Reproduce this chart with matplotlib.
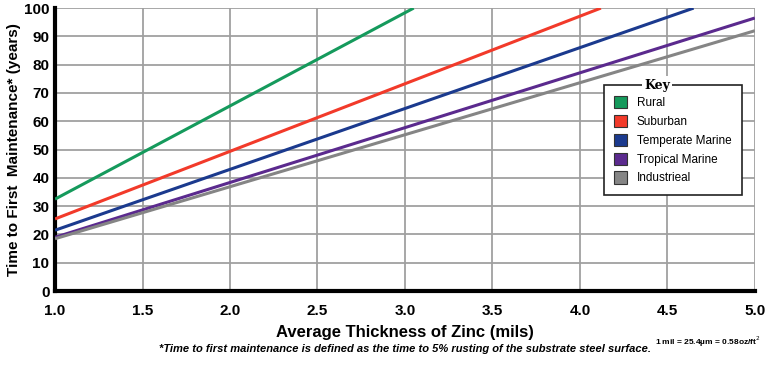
import matplotlib.pyplot as plt
from matplotlib.patches import Patch

plt.rcParams['font.family'] = ['Liberation Sans', 'DejaVu Sans']

# datos (espesor en mils, anios)
names = ["Rural", "Suburban", "Temperate Marine", "Tropical Marine", "Industrieal"]
colors = ["#159a5c", "#f23a2a", "#1b3a8e", "#5b2a8e", "#858585"]
x_start = [1.0, 1.0, 1.0, 1.0, 1.0]
x_end = [3.05, 4.12, 4.65, 5.0, 5.0]
y_start = [32.5, 25.5, 21.5, 19.0, 18.5]
y_end = [100.0, 100.0, 100.0, 96.5, 92.0]

xticks = [1.0, 1.5, 2.0, 2.5, 3.0, 3.5, 4.0, 4.5, 5.0]
yticks = [0, 10, 20, 30, 40, 50, 60, 70, 80, 90, 100]

fig = plt.figure(figsize=(7.75, 3.68), dpi=100)
ax = fig.add_axes([0.071, 0.209, 0.903, 0.769])

for i in range(len(names)):
    ax.plot([x_start[i], x_end[i]], [y_start[i], y_end[i]], color=colors[i], lw=2.2,
            solid_capstyle='butt', zorder=3)

ax.set_xlim(1.0, 5.0)
ax.set_ylim(0, 100)
ax.set_xticks(xticks)
ax.set_yticks(yticks)
ax.set_xticklabels(["%.1f" % v for v in xticks], fontsize=11, fontweight='bold')
ax.set_yticklabels([str(v) for v in yticks], fontsize=11, fontweight='bold')
ax.tick_params(axis='y', length=0, pad=4)
ax.tick_params(axis='x', length=0, pad=9)
ax.grid(True, color="#a0a0a0", lw=1.3)
ax.set_axisbelow(True)

for s in ['top', 'right']:
    ax.spines[s].set_visible(False)
ax.spines['left'].set_linewidth(3)
ax.spines['bottom'].set_linewidth(3)

ax.set_xlabel("Average Thickness of Zinc (mils)", fontsize=12, fontweight='bold', labelpad=5)
ax.set_ylabel("Time to First  Maintenance* (years)", fontsize=11, fontweight='bold', labelpad=2)

handles = [Patch(facecolor=c, edgecolor="#333333", lw=0.8) for c in colors]
leg = ax.legend(handles, names, loc='upper left', bbox_to_anchor=(0.784, 0.728),
                fontsize=8.5, frameon=True, fancybox=False, edgecolor='#222222',
                handlelength=1.1, handleheight=1.2, borderpad=0.9, labelspacing=0.5,
                handletextpad=0.8, borderaxespad=0)
leg.get_frame().set_linewidth(1.2)
leg.get_frame().set_alpha(1)
ax.text(0.86, 0.728, "Key", transform=ax.transAxes, ha='center', va='center', zorder=10,
        fontsize=9, fontweight='bold', family='DejaVu Serif',
        bbox=dict(facecolor='white', edgecolor='none', pad=1.5))

fig.text(0.205, 0.043, "*Time to first maintenance is defined as the time to 5% rusting of the substrate steel surface.",
         fontsize=8, fontweight='bold', style='italic')
fig.text(0.845, 0.063, "1 mil = 25.4\u00b5m = 0.58oz/ft$^2$", fontsize=6, fontweight='bold')

plt.savefig("out.png", dpi=100)
